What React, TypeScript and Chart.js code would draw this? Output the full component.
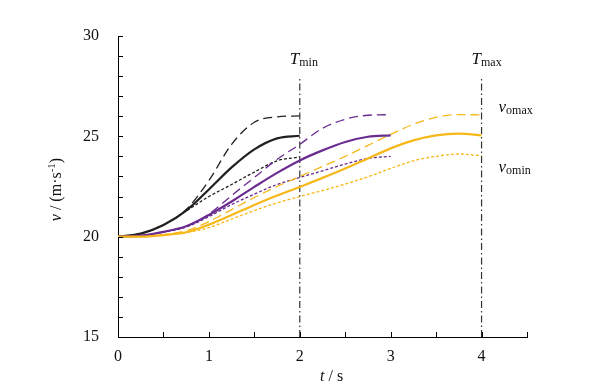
import React, { useEffect, useRef } from "react";
import { Chart, registerables } from "chart.js";

Chart.register(...registerables);

// time grids (s)
const tBlack = [0, 0.25, 0.5, 0.75, 1, 1.25, 1.5, 1.75, 2];
const tPurple = [0, 0.25, 0.5, 0.75, 1, 1.25, 1.5, 1.75, 2, 2.25, 2.5, 2.75, 3];
const tYellow = [0, 0.25, 0.5, 0.75, 1, 1.25, 1.5, 1.75, 2, 2.25, 2.5, 2.75, 3, 3.25, 3.5, 3.75, 4];

// velocities (m/s)
const blackSolid = [20, 20.15, 20.58, 21.3, 22.35, 23.45, 24.35, 24.9, 25.03];
const blackMax = [20, 20.15, 20.58, 21.35, 22.8, 24.6, 25.7, 25.97, 26.02];
const blackMin = [20, 20.15, 20.58, 21.28, 22.0, 22.6, 23.22, 23.78, 23.97];

const purpleSolid = [20, 20.05, 20.24, 20.52, 21.08, 21.75, 22.48, 23.18, 23.8, 24.3, 24.72, 24.98, 25.05];
const purpleMax = [20, 20.05, 20.24, 20.52, 21.12, 22.05, 22.95, 23.85, 24.6, 25.4, 25.85, 26.05, 26.08];
const purpleMin = [20, 20.05, 20.22, 20.48, 21.0, 21.6, 22.12, 22.6, 22.95, 23.28, 23.62, 23.9, 24.0];

const yellowSolid = [20, 20, 20.08, 20.22, 20.6, 21.08, 21.58, 22.05, 22.48, 22.93, 23.4, 23.9, 24.4, 24.8, 25.05, 25.13, 25.05];
const yellowMax = [20, 20, 20.1, 20.3, 20.75, 21.35, 21.95, 22.5, 23.0, 23.5, 24.0, 24.55, 25.1, 25.6, 25.95, 26.08, 26.07];
const yellowMin = [20, 20, 20.08, 20.2, 20.45, 20.88, 21.3, 21.68, 22.0, 22.3, 22.62, 22.98, 23.4, 23.78, 24.0, 24.12, 24.03];

// marker lines
const markerTimes = [2, 4];
const markerRange = [15, 27.9];

const xMin = 0, xMax = 4.5, yMin = 15, yMax = 30;

const BLACK = "#231f20";
const PURPLE = "#6b2c91";
const YELLOW = "#f6b819";
const SERIF = "'Liberation Serif', 'Times New Roman', serif";

const pts = (t: number[], v: number[]) => t.map((x, i) => ({ x, y: v[i] }));

const line = (t: number[], v: number[], color: string, kind: "solid" | "max" | "min") => ({
  data: pts(t, v),
  borderColor: color,
  borderWidth: kind === "solid" ? 2.2 : 1.3,
  borderDash: kind === "solid" ? [] : kind === "max" ? [9, 5] : [3, 2],
  pointRadius: 0,
  fill: false,
  cubicInterpolationMode: "monotone" as const,
  order: kind === "solid" ? 0 : 1,
});

const overlay = {
  id: "overlay",
  afterDraw(chart: any) {
    const { ctx, scales } = chart;
    const xs = scales.x, ys = scales.y;
    const left = xs.left, bottom = ys.bottom;
    ctx.save();
    ctx.strokeStyle = "#000";
    ctx.lineWidth = 1;
    // inward ticks
    for (let v = yMin; v <= yMax + 1e-9; v += 1) {
      const py = Math.round(ys.getPixelForValue(v)) + 0.5;
      ctx.beginPath();
      ctx.moveTo(left, py);
      ctx.lineTo(left + 5, py);
      ctx.stroke();
    }
    for (let t = xMin; t <= xMax + 1e-9; t += 0.5) {
      const px = Math.round(xs.getPixelForValue(t)) + 0.5;
      ctx.beginPath();
      ctx.moveTo(px, bottom);
      ctx.lineTo(px, bottom - 5);
      ctx.stroke();
    }
    ctx.fillStyle = "#111";
    ctx.textBaseline = "alphabetic";
    const sub = (x: number, y: number, main: string, s: string) => {
      ctx.font = `italic 17px ${SERIF}`;
      ctx.textAlign = "left";
      ctx.fillText(main, x, y);
      const w = ctx.measureText(main).width;
      ctx.font = `12px ${SERIF}`;
      ctx.fillText(s, x + w, y + 2);
    };
    // T labels
    sub(xs.getPixelForValue(markerTimes[0]) - 10, ys.getPixelForValue(28.6), "T", "min");
    sub(xs.getPixelForValue(markerTimes[1]) - 10, ys.getPixelForValue(28.6), "T", "max");
    // v labels
    sub(xs.getPixelForValue(4) + 17, ys.getPixelForValue(26) - 4, "v", "omax");
    sub(xs.getPixelForValue(4) + 17, ys.getPixelForValue(24) + 16, "v", "omin");
    // x title
    const xc = xs.getPixelForValue(2.35);
    const p1 = "t", p2 = " / s";
    ctx.textAlign = "left";
    ctx.font = `italic 16px ${SERIF}`;
    const w1 = ctx.measureText(p1).width;
    ctx.font = `16px ${SERIF}`;
    const w2 = ctx.measureText(p2).width;
    const x0 = xc - (w1 + w2) / 2;
    ctx.font = `italic 16px ${SERIF}`;
    ctx.fillText(p1, x0, 381);
    ctx.font = `16px ${SERIF}`;
    ctx.fillText(p2, x0 + w1, 381);
    // y title
    ctx.translate(61, (ys.top + ys.bottom) / 2 + 3);
    ctx.rotate(-Math.PI / 2);
    ctx.font = `italic 16px ${SERIF}`;
    const a = "v", b = " / (m·s", c = "-1", d = ")";
    const wa = ctx.measureText(a).width;
    ctx.font = `16px ${SERIF}`;
    const wb = ctx.measureText(b).width;
    ctx.font = `11px ${SERIF}`;
    const wc = ctx.measureText(c).width;
    ctx.font = `16px ${SERIF}`;
    const wd = ctx.measureText(d).width;
    let sx = -(wa + wb + wc + wd) / 2;
    ctx.font = `italic 16px ${SERIF}`;
    ctx.fillText(a, sx, 0); sx += wa;
    ctx.font = `16px ${SERIF}`;
    ctx.fillText(b, sx, 0); sx += wb;
    ctx.font = `11px ${SERIF}`;
    ctx.fillText(c, sx, -6); sx += wc;
    ctx.font = `16px ${SERIF}`;
    ctx.fillText(d, sx, 0);
    ctx.restore();
  },
};

export default function App() {
  const ref = useRef<HTMLCanvasElement>(null);
  useEffect(() => {
    document.body.style.margin = "0";
    const datasets: any[] = [
      line(tYellow, yellowMin, YELLOW, "min"),
      line(tYellow, yellowMax, YELLOW, "max"),
      line(tYellow, yellowSolid, YELLOW, "solid"),
      line(tPurple, purpleMin, PURPLE, "min"),
      line(tPurple, purpleMax, PURPLE, "max"),
      line(tPurple, purpleSolid, PURPLE, "solid"),
      line(tBlack, blackMin, BLACK, "min"),
      line(tBlack, blackMax, BLACK, "max"),
      line(tBlack, blackSolid, BLACK, "solid"),
      ...markerTimes.map((t) => ({
        data: markerRange.map((y) => ({ x: t, y })),
        borderColor: "#333",
        borderWidth: 1.2,
        borderDash: [7, 3, 1.5, 3],
        pointRadius: 0,
        fill: false,
      })),
    ];
    const chart = new Chart(ref.current!, {
      type: "line",
      data: { datasets },
      plugins: [overlay],
      options: {
        animation: false,
        responsive: false,
        devicePixelRatio: 1,
        layout: { padding: { left: 48, right: 71, top: 36, bottom: 0 } },
        plugins: { legend: { display: false }, tooltip: { enabled: false } },
        scales: {
          x: {
            type: "linear",
            min: xMin,
            max: xMax,
            grid: { display: false, drawTicks: false },
            border: { display: true, color: "#000", width: 1 },
            ticks: {
              stepSize: 1,
              padding: 10,
              color: "#111",
              font: { family: SERIF, size: 16 },
              callback: (v: any) => (Number.isInteger(v) ? String(v) : ""),
              maxRotation: 0,
            },
            afterFit: (s: any) => { s.height = 50; },
          },
          y: {
            type: "linear",
            min: yMin,
            max: yMax,
            grid: { display: false, drawTicks: false },
            border: { display: true, color: "#000", width: 1 },
            ticks: {
              stepSize: 5,
              padding: 19,
              color: "#111",
              font: { family: SERIF, size: 16 },
            },
            afterFit: (s: any) => { s.width = 70; },
          },
        },
      },
    });
    return () => chart.destroy();
  }, []);
  return (
    <div style={{ position: "fixed", left: 0, top: 0, width: 598, height: 387, background: "#fff" }}>
      <canvas ref={ref} width={598} height={387} style={{ width: 598, height: 387 }} />
    </div>
  );
}
